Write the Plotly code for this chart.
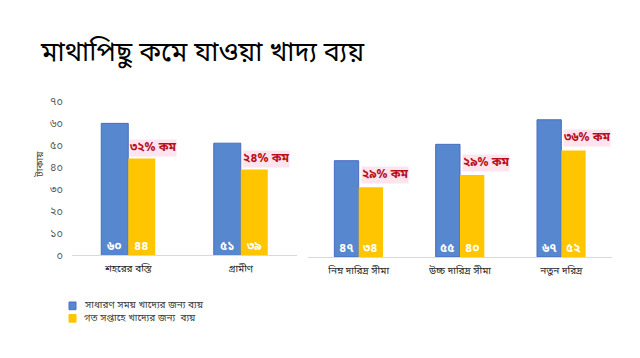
import plotly.graph_objects as go

# ---- data ----
cats_left = ["শহরের বস্তি", "গ্রামীণ"]
cats_right = ["নিম্ন দারিদ্র সীমা", "উচ্চ দারিদ্র সীমা", "নতুন দরিদ্র"]
normal_left = [60, 51]
lastweek_left = [44, 39]
normal_right = [47, 55, 67]
lastweek_right = [34, 40, 52]
drop_left = ["৩২% কম", "২৪% কম"]
drop_right = ["২৯% কম", "২৯% কম", "৩৬% কম"]
y_ticks = [0, 10, 20, 30, 40, 50, 60, 70]
series_names = ["সাধারণ সময় খাদ্যের জন্য ব্যয়", "গত সপ্তাহে খাদ্যের জন্য  ব্যয়"]

BN = str.maketrans("0123456789", "০১২৩৪৫৬৭৮৯")
def bn(v):
    return str(v).translate(BN)

FONT = "Noto Sans Bengali, Noto Sans, DejaVu Sans, sans-serif"
BLUE = "#5687cf"
BLUE_EDGE = "#4a6cc2"
YELLOW = "#ffc600"
RED = "#b8101a"
BARGAP = 0.52

# page body has an 8px margin: figure is laid out in window pixels minus 8
W, H, OFF = 632, 350, 8
def X(px):
    return (px - OFF) / W
def Y(py):
    return 1 - (py - OFF) / H

fig = go.Figure()
half = (1 - BARGAP) / 4  # centre offset of each bar within its group

def add_pair(cats, a, b, xa, ya):
    fig.add_trace(go.Bar(x=cats, y=a, name=series_names[0],
                         marker=dict(color=BLUE, line=dict(color=BLUE_EDGE, width=1)),
                         xaxis=xa, yaxis=ya, showlegend=False))
    fig.add_trace(go.Bar(x=cats, y=b, name=series_names[1], marker=dict(color=YELLOW, line=dict(width=0)),
                         xaxis=xa, yaxis=ya, showlegend=False))
    for i, (va, vb) in enumerate(zip(a, b)):
        for off, v in ((-half, va), (half, vb)):
            fig.add_annotation(x=i + off, y=0, xref=xa, yref=ya, text=bn(v), showarrow=False,
                               xanchor="center", yanchor="middle", yshift=8,
                               font=dict(color="white", size=12, family=FONT, weight="bold"))

add_pair(cats_left, normal_left, lastweek_left, "x", "y")
add_pair(cats_right, normal_right, lastweek_right, "x2", "y2")

for c, v, t in zip(cats_left, lastweek_left, drop_left):
    fig.add_annotation(x=c, y=v, xref="x", yref="y", text=t, showarrow=False, xanchor="left", yanchor="bottom",
                       xshift=1, yshift=2, bgcolor="#fde4ef", borderpad=0,
                       font=dict(color=RED, size=12, family=FONT, weight="bold"))
for c, v, t in zip(cats_right, lastweek_right, drop_right):
    fig.add_annotation(x=c, y=v, xref="x2", yref="y2", text=t, showarrow=False, xanchor="left", yanchor="bottom",
                       xshift=2, yshift=3, bgcolor="#fde4ef", borderpad=0,
                       font=dict(color=RED, size=12, family=FONT, weight="bold"))

# title
fig.add_annotation(x=X(38), y=Y(50), xref="paper", yref="paper", text="মাথাপিছু কমে যাওয়া খাদ্য ব্যয়",
                   showarrow=False, xanchor="left", yanchor="middle",
                   font=dict(color="black", size=27, family=FONT))
# y-axis title
fig.add_annotation(x=X(41), y=Y(165), xref="paper", yref="paper", text="টাকায়", textangle=-90,
                   showarrow=False, xanchor="center", yanchor="middle",
                   font=dict(color="#404040", size=10, family=FONT))

# legend (manual)
legend_rows = [(BLUE, BLUE_EDGE, series_names[0], 312), (YELLOW, YELLOW, series_names[1], 325)]
for fill, edge, name, yc in legend_rows:
    fig.add_shape(type="rect", xref="paper", yref="paper", x0=X(69), x1=X(76), y0=Y(yc + 4), y1=Y(yc - 4),
                  fillcolor=fill, line=dict(color=edge, width=1))
    fig.add_annotation(x=X(82), y=Y(yc), xref="paper", yref="paper", text=name, showarrow=False,
                       xanchor="left", yanchor="middle", font=dict(color="#404040", size=10, family=FONT))

fig.update_layout(
    width=W, height=H, margin=dict(l=0, r=0, t=0, b=0),
    paper_bgcolor="white", plot_bgcolor="white",
    barmode="group", bargap=BARGAP, bargroupgap=0, showlegend=False,
    font=dict(family=FONT, color="#404040"),
    xaxis=dict(domain=[X(72), X(297)], showgrid=False, showline=True, linecolor="#d9d9d9", linewidth=1,
               ticks="", tickfont=dict(size=10, color="#262626"), ticklabelstandoff=4, anchor="y"),
    yaxis=dict(domain=[Y(259.5), Y(99)], range=[0, 70], tickvals=y_ticks,
               ticktext=[bn(v) for v in y_ticks], showgrid=False, zeroline=False, showline=False,
               tickfont=dict(size=11, color="#595959"), ticklabelstandoff=8),
    xaxis2=dict(domain=[X(308), X(612)], showgrid=False, showline=True, linecolor="#d9d9d9", linewidth=1,
                ticks="", tickfont=dict(size=10, color="#262626"), ticklabelstandoff=4, anchor="y2"),
    yaxis2=dict(domain=[Y(261), Y(99)], range=[0, 76], showgrid=False, zeroline=False,
                showline=False, showticklabels=False, anchor="x2"),
)

fig.write_html("out.html")
